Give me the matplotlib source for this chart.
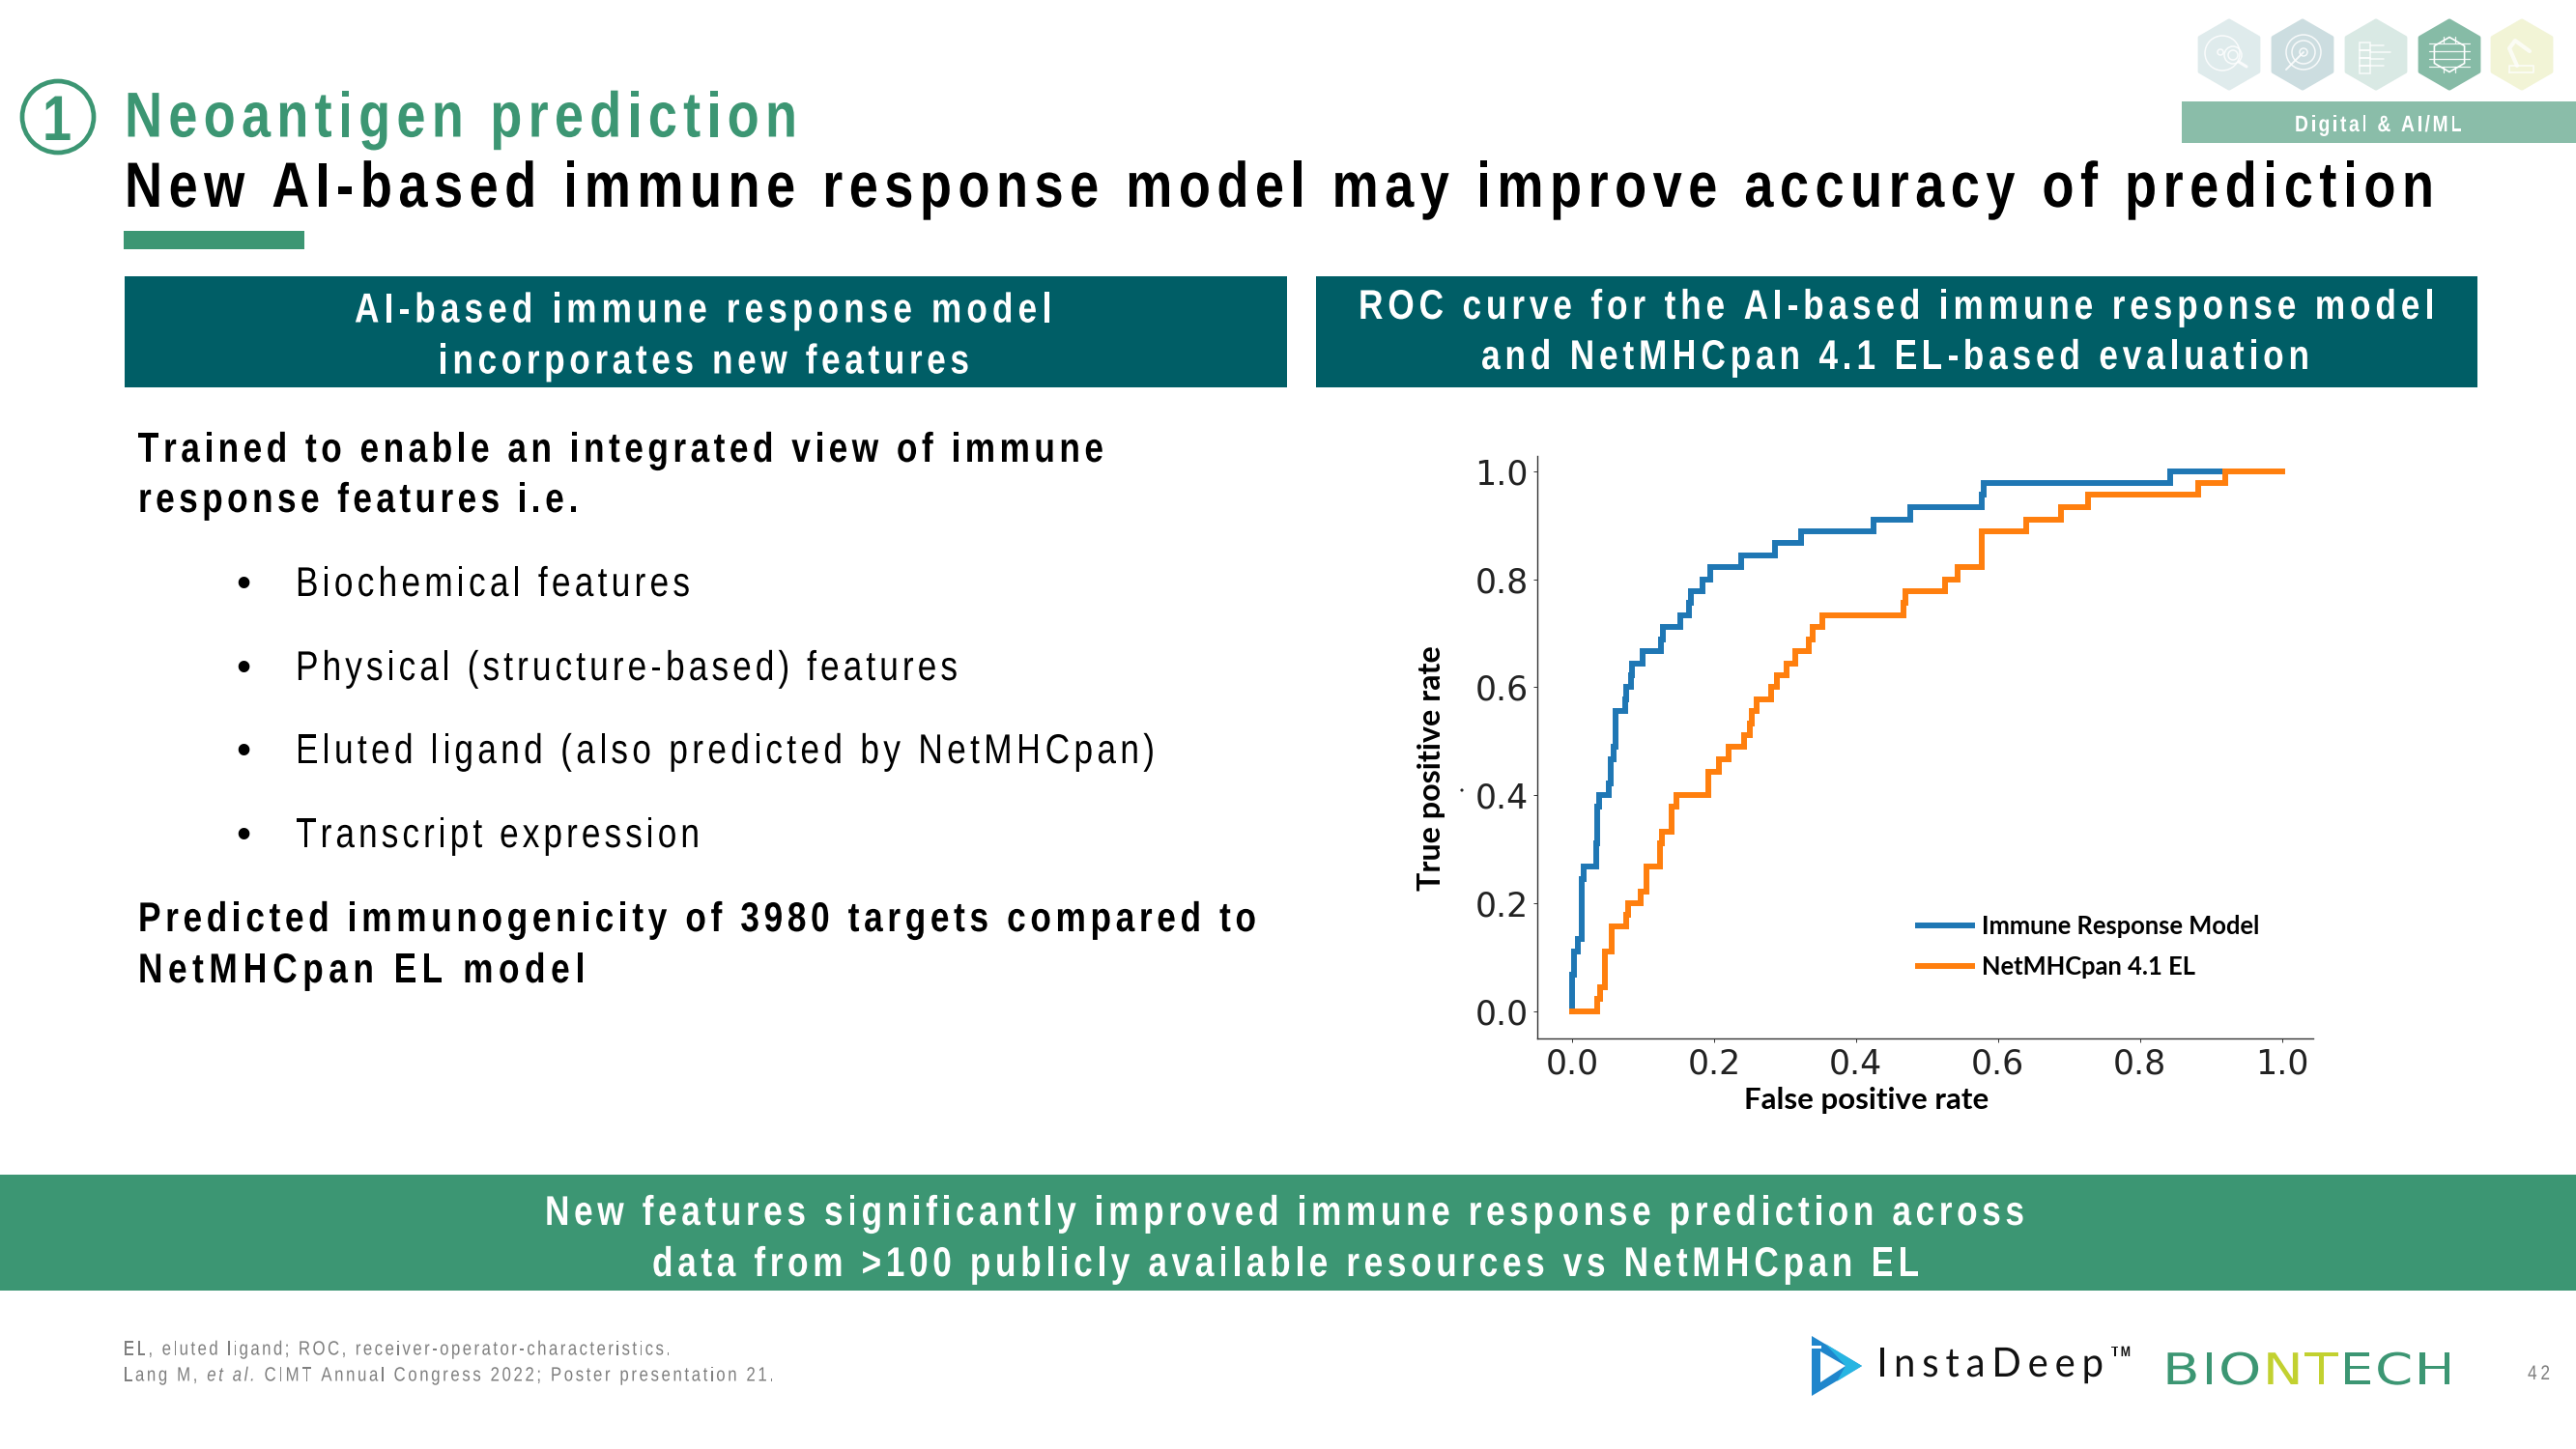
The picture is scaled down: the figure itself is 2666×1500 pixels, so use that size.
import matplotlib
matplotlib.use("Agg")
import matplotlib.pyplot as plt
from matplotlib import font_manager as fm
from matplotlib.font_manager import FontProperties
from matplotlib.ft2font import LoadFlags
from matplotlib.patches import Rectangle, Polygon, Circle, RegularPolygon
from matplotlib.text import Text
from matplotlib.textpath import TextPath
from matplotlib.colors import to_rgb
from matplotlib.transforms import Affine2D, Bbox

# ---------- data ----------
fpr_model = [0, 0, .003, .008, .014, .017, .034, .036, .038, .052, .055, .058, .0615, .0745, .0766, .0828, .085,
             .0995, .1256, .128, .1526, .1646, .167, .184, .194, .2376, .286, .3225, .425, .476, .577, .580, .8426, .916]
tpr_model = [0, .067, .111, .133, .244, .267, .311, .378, .4, .422, .467, .489, .556, .578, .6, .622, .644,
             .667, .689, .711, .733, .756, .778, .8, .822, .844, .867, .889, .911, .933, .956, .978, 1.0, 1.0]
fpr_netmhc = [0, .036, .0396, .0464, .0563, .076, .0787, .0969, .1047, .1245, .127, .1396, .1474, .1922, .2063,
              .2204, .2428, .2506, .2532, .26, .2808, .2881, .3027, .3141, .334, .3392, .3532, .4668, .4692, .5259,
              .5432, .5768, .6394, .6893, .7269, .8822, .9198, 1.0]
tpr_netmhc = [0, .022, .044, .111, .156, .178, .2, .222, .267, .311, .333, .378, .4, .444, .467,
              .489, .511, .533, .556, .578, .6, .622, .644, .667, .689, .711, .733, .756, .778, .8,
              .822, .889, .911, .933, .956, .978, 1.0, 1.0]
ticks = [0.0, 0.2, 0.4, 0.6, 0.8, 1.0]
legend_labels = ["Immune Response Model", "NetMHCpan 4.1 EL"]

GREEN = "#3C9673"
TEAL = "#005E66"
W, H = 2666, 1500
fig = plt.figure(figsize=(W / 100, H / 100), dpi=100, facecolor="white")
bg = fig.add_axes([0, 0, 1, 1])
bg.set_xlim(0, W)
bg.set_ylim(H, 0)
bg.axis("off")
SANS = ["Liberation Sans"]
NARROW = .82


def advance(c, prop):
    font = fm.get_font(fm.findfont(prop))
    font.set_size(prop.get_size_in_points(), 100)
    return font.load_char(ord(c), flags=LoadFlags.NO_HINTING).linearHoriAdvance / 65536


class SpacedText(Text):
    """One text object, drawn condensed or widened, with tracking between its characters."""

    def __init__(self, x, y, s, spacing=0, hscale=1.0, colors=None, italic=None, **kw):
        super().__init__(x, y, s, **kw)
        self._spacing = spacing
        self._hscale = hscale
        self._colors = colors
        self._italic = italic

    def _prop_at(self, i):
        p = self.get_fontproperties()
        if self._italic and self._italic[0] <= i < self._italic[1]:
            p = p.copy()
            p.set_style("italic")
        return p

    def _width(self):
        s = self.get_text()
        return sum(advance(c, self._prop_at(i)) * self._hscale + self._spacing for i, c in enumerate(s)) - self._spacing

    def get_window_extent(self, renderer=None, dpi=None):
        x, y = self.get_transform().transform(self.get_position())
        z = self.get_fontproperties().get_size_in_points() / 72 * 100
        return Bbox([[x, y - .22 * z], [x + self._width(), y + .75 * z]])

    def draw(self, renderer):
        if not self.get_visible():
            return
        x, y = self.get_transform().transform(self.get_position())
        z = self.get_fontproperties().get_size_in_points() / 72 * 100
        gc = renderer.new_gc()
        gc.set_linewidth(0)
        gc.set_antialiased(True)
        for i, c in enumerate(self.get_text()):
            p = self._prop_at(i)
            if c != " ":
                col = self._colors[i] if self._colors else self.get_color()
                glyph = TextPath((0, 0), c, size=z, prop=p)
                tr = Affine2D().scale(self._hscale, 1).translate(x, y)
                renderer.draw_path(gc, glyph, tr, to_rgb(col))
            x += advance(c, p) * self._hscale + self._spacing
        gc.restore()


def st(x0, x1, base, s, size, weight="normal", color="black", family=SANS, colors=None, italic=None, hscale=NARROW):
    prop = FontProperties(family=family, size=size * .72, weight=weight)
    t = SpacedText(x0, base, s, hscale=hscale, fontproperties=prop, color=color, colors=colors, italic=italic,
                   transform=bg.transData, clip_on=False)
    if len(s) > 1:
        t._spacing = (x1 - x0 - t._width()) / (len(s) - 1)
    bg.add_artist(t)
    return t


def rect(x0, y0, x1, y1, c):
    bg.add_patch(Rectangle((x0, y0), x1 - x0, y1 - y0, fc=c, ec="none"))


# ---------- slide furniture ----------
bg.add_patch(Circle((60, 121), 37, fc="white", ec=GREEN, lw=3.4))
st(44, 62, 145, "1", 66, "bold", GREEN)
st(129, 825, 141.5, "Neoantigen prediction", 66, "bold", GREEN)
st(129, 2519, 214, "New AI-based immune response model may improve accuracy of prediction", 66, "bold")
rect(128, 239, 315, 258, GREEN)

rect(129, 286, 1332, 401, TEAL)
rect(1362, 286, 2564, 401, TEAL)
st(367, 1088, 333.5, "AI-based immune response model", 43, "bold", "white")
st(454, 1003, 386.5, "incorporates new features", 43, "bold", "white")
st(1406, 2519, 330, "ROC curve for the AI-based immune response model", 43, "bold", "white")
st(1533, 2390, 382, "and NetMHCpan 4.1 EL-based evaluation", 43, "bold", "white")

st(143, 1142, 478, "Trained to enable an integrated view of immune", 43, "bold")
st(143, 598, 530, "response features i.e.", 43, "bold")
body_lines = ["Biochemical features", "Physical (structure-based) features",
              "Eluted ligand (also predicted by NetMHCpan)", "Transcript expression"]
body_ends = [714, 991, 1195, 724]
body_bases = [617, 704, 790, 877]
for s, e, b in zip(body_lines, body_ends, body_bases):
    bg.text(252, b, "•", fontsize=43 * .72, family=["Liberation Sans"], ha="center", va="baseline")
    st(306, e, b, s, 43)
st(143, 1300, 964, "Predicted immunogenicity of 3980 targets compared to", 43, "bold")
st(143, 605, 1017, "NetMHCpan EL model", 43, "bold")

rect(0, 1216, W, 1336, GREEN)
st(564, 2095, 1268, "New features significantly improved immune response prediction across", 43, "bold", "white")
st(675, 1986, 1321, "data from >100 publicly available resources vs NetMHCpan EL", 43, "bold", "white")

st(128, 694, 1402.5, "EL, eluted ligand; ROC, receiver-operator-characteristics.", 20.5, color="#7F7F7F")
foot = "Lang M, et al. CIMT Annual Congress 2022; Poster presentation 21."
st(128, 801, 1429.5, foot, 20.5, color="#7F7F7F", italic=(8, 14))
st(2616, 2639, 1428, "42", 21, color="#7F7F7F")

# top-right hexagons and tag
rect(2258, 105, W, 148, "#8ABDA9")
st(2375, 2548, 136, "Digital & AI/ML", 23.5, "bold", "white")
hex_x = [2307, 2383, 2459, 2535, 2610]
hex_c = ["#DFEBEC", "#CCDDE0", "#D9E9E4", "#86BBA6", "#F2F4D6"]
for hx, hc in zip(hex_x, hex_c):
    bg.add_patch(RegularPolygon((hx, 56.5), 6, radius=35, orientation=0, fc=hc, ec=hc, lw=3, joinstyle="round"))


def icon_line(xs, ys, alpha=.85, lw=1.1):
    bg.plot(xs, ys, color="white", lw=lw, alpha=alpha, solid_capstyle="round")


def icon_ring(x, y, r, alpha=.85, lw=1.1):
    bg.add_patch(Circle((x, y), r, fc="none", ec="white", lw=lw, alpha=alpha))


# icon 1: cell under a lens
icon_ring(2300, 55, 18)
icon_ring(2311, 57, 9)
icon_ring(2311, 57, 5)
icon_ring(2298, 54, 3)
icon_line([2317, 2325], [64, 69], lw=2.2)
# icon 2: target
for r in (18, 12, 4):
    icon_ring(2384, 54, r)
icon_line([2384, 2366], [54, 72], lw=1.4)
# icon 3: tree / list
for yy in (44, 52, 60, 68):
    bg.add_patch(Rectangle((2442, yy), 11, 8, fc="none", ec="white", lw=1.1, alpha=.85))
icon_line([2453, 2467], [47, 47]); icon_line([2453, 2474], [54, 54]); icon_line([2453, 2467], [61, 61]); icon_line([2453, 2467], [68, 68])
# icon 4: chip
bg.add_patch(RegularPolygon((2535, 56.5), 6, radius=18, orientation=0, fc="none", ec="white", lw=1.2))
for d in (-12, -4, 4, 12):
    icon_line([2514, 2556], [56.5 + d, 56.5 + d], .9, .9)
for dx in (-6, 6):
    icon_line([2535 + dx, 2535 + dx], [38, 44], .9, .9)
    icon_line([2535 + dx, 2535 + dx], [69, 75], .9, .9)
# icon 5: robot arm
icon_line([2597, 2597, 2622, 2622, 2597], [80 - 5, 68, 68, 75, 75], .75, 1.3)
icon_line([2605, 2597, 2603, 2618], [68, 50, 42, 53], .75, 3)

# logos
bg.add_patch(Polygon([(1875, 1383), (1927, 1414), (1875, 1445), (1875, 1414)], fc="#1F86CC", ec="none"))
bg.add_patch(Polygon([(1889, 1383 + 8), (1927, 1414), (1901, 1430), (1910, 1414)], fc="#27B5E2", ec="none"))
bg.add_patch(Polygon([(1884, 1399), (1910, 1414), (1884, 1431)], fc="white", ec="none"))
bg.add_patch(Rectangle((1873, 1393), 12, 3, fc="white", ec="none"))
st(1942, 2177, 1425, "InstaDeep", 42, color="#111111", family=["Lato"], hscale=.95)
st(2185, 2205, 1404, "TM", 15, "bold", "#111111")
logo = "BIONTECH"
logo_cols = [GREEN, GREEN, GREEN, "#C2D130", "#C2D130", GREEN, GREEN, GREEN]
st(2238, 2541, 1433, logo, 45, color=GREEN, colors=logo_cols, family=["DejaVu Sans"], hscale=1.25)

# ---------- ROC chart ----------
ax = fig.add_axes([1591 / W, 1 - 1075.3 / H, (2394 - 1591) / W, (1075.3 - 472) / H], facecolor="none")
ax.step(fpr_model, tpr_model, where="post", color="#1F77B4", lw=4.3, label=legend_labels[0], solid_joinstyle="miter")
ax.step(fpr_netmhc, tpr_netmhc, where="post", color="#FF7F0E", lw=4.3, label=legend_labels[1], solid_joinstyle="miter")
ax.set_xlim(-.049, 1.044)
ax.set_ylim(-.0512, 1.0282)
ax.spines[["top", "right"]].set_visible(False)
ax.spines[["left", "bottom"]].set_color("#333333")
ax.spines[["left", "bottom"]].set_linewidth(1)
ax.set_xticks(ticks)
ax.set_yticks(ticks)
ax.set_xticklabels([f"{t:.1f}" for t in ticks])
ax.set_yticklabels([f"{t:.1f}" for t in ticks])
ax.tick_params(length=3, width=.7, color="#333333", labelsize=25, labelcolor="#222222", pad=3.5)
ax.set_xlabel("False positive rate", fontsize=22.5, fontweight="bold", family=["Lato", "DejaVu Sans"])
ax.xaxis.set_label_coords((1932 - 1591) / (2394 - 1591), -(1148 - 1075.3) / (1075.3 - 472), transform=ax.transAxes)
ax.xaxis.label.set_va("baseline")
ax.set_ylabel("True positive rate", fontsize=23.2, fontweight="bold", family=["Lato", "DejaVu Sans"])
ax.yaxis.set_label_coords(-(1591 - 1491) / (2394 - 1591), (1075.3 - 795) / (1075.3 - 472), transform=ax.transAxes)
ax.yaxis.label.set_va("baseline")
leg = ax.legend(loc="upper left", bbox_to_anchor=((1985 - 1591) / (2394 - 1591), (1075.3 - 947) / (1075.3 - 472)),
                frameon=False, borderaxespad=0, borderpad=0, handlelength=2.18, handletextpad=.4,
                labelspacing=.72, prop=FontProperties(family=["Lato", "DejaVu Sans"], weight="bold", size=18.4))
bg.add_patch(Circle((1513, 818), 1.6, fc="#222222", ec="none"))

fig.savefig("out.png", dpi=100, facecolor="white")
